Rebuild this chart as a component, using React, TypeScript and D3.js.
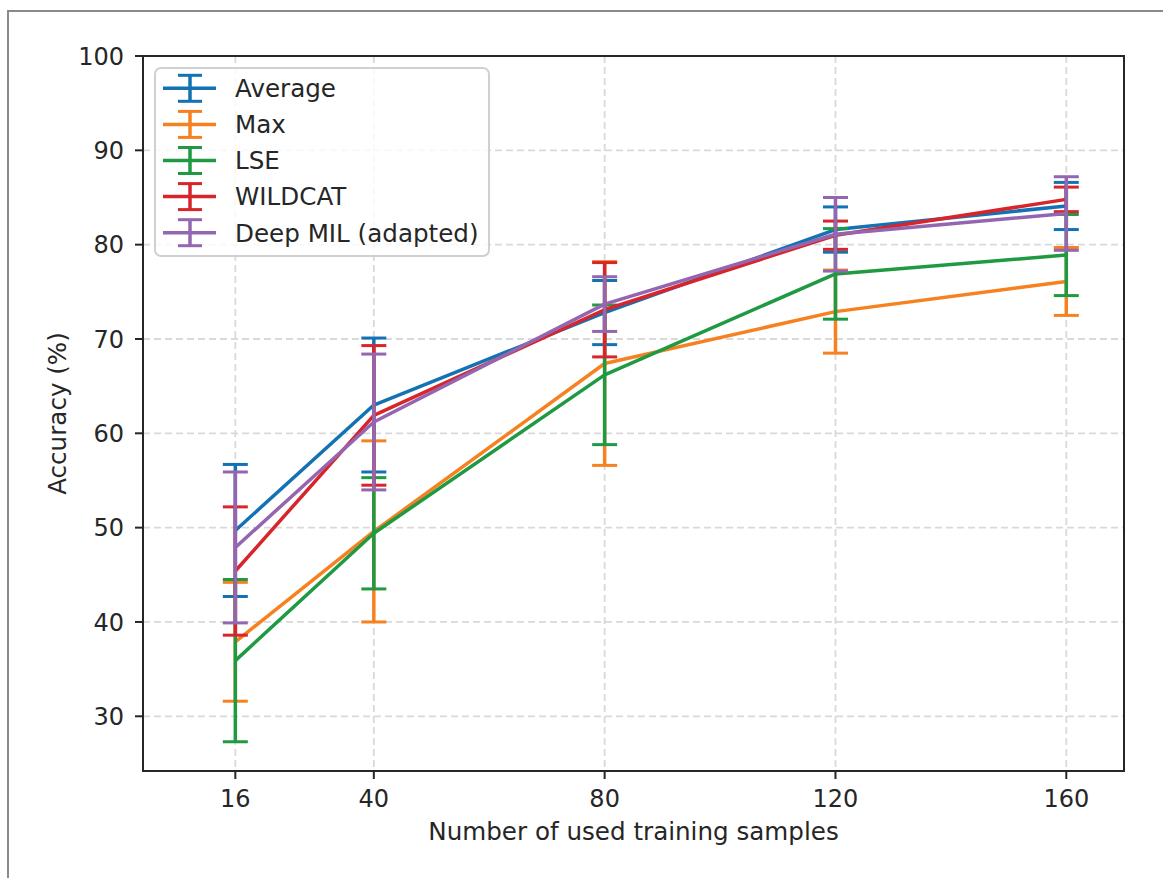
import * as d3 from 'd3';

const samples = [16, 40, 80, 120, 160];
const xTicks = [16, 40, 80, 120, 160];
const yTicks = [30, 40, 50, 60, 70, 80, 90, 100];

const averageAcc = [49.7, 63.0, 72.8, 81.6, 84.1];
const averageErr = [7.0, 7.1, 3.4, 2.4, 2.5];
const maxAcc = [37.9, 49.6, 67.4, 72.9, 76.1];
const maxErr = [6.3, 9.6, 10.8, 4.4, 3.6];
const lseAcc = [35.9, 49.4, 66.2, 76.9, 78.9];
const lseErr = [8.6, 5.9, 7.4, 4.8, 4.3];
const wildcatAcc = [45.4, 61.9, 73.1, 81.0, 84.8];
const wildcatErr = [6.8, 7.4, 5.0, 1.5, 1.3];
const deepMilAcc = [47.9, 61.2, 73.7, 81.1, 83.3];
const deepMilErr = [8.0, 7.2, 2.9, 3.9, 3.9];

const series = [
  { label: 'Average', color: '#1372b3', values: averageAcc, errs: averageErr },
  { label: 'Max', color: '#f68121', values: maxAcc, errs: maxErr },
  { label: 'LSE', color: '#1f9a43', values: lseAcc, errs: lseErr },
  { label: 'WILDCAT', color: '#d7252b', values: wildcatAcc, errs: wildcatErr },
  { label: 'Deep MIL (adapted)', color: '#9466b0', values: deepMilAcc, errs: deepMilErr },
];

const W = 1163;
const H = 878;
const plot = { left: 143, right: 1124, top: 56, bottom: 771 };
const font = '"DejaVu Sans", sans-serif';
const textColor = '#262626';

export default function App() {
  const x = d3.scaleLinear().domain([0, 170]).range([plot.left, plot.right]);
  const y = d3.scaleLinear().domain([24.2, 100]).range([plot.bottom, plot.top]);
  const line = d3
    .line<number>()
    .x((_, i) => x(samples[i]))
    .y((d) => y(d));
  const cap = 12.5;

  return (
    <svg
      width={W}
      height={H}
      style={{ position: 'absolute', left: 0, top: 0, background: '#fff' }}
      fontFamily={font}
    >
      <rect x={8} y={11} width={W + 20} height={H + 20} fill="#fff" stroke="#8a8a8a" strokeWidth={2} />

      {/* grid */}
      <g stroke="#d9d9d9" strokeWidth={1.8} strokeDasharray="7,4">
        {xTicks.map((t) => (
          <line key={'gx' + t} x1={x(t)} x2={x(t)} y1={plot.top} y2={plot.bottom} />
        ))}
        {yTicks.map((t) => (
          <line key={'gy' + t} x1={plot.left} x2={plot.right} y1={y(t)} y2={y(t)} />
        ))}
      </g>

      {/* series */}
      {series.map((s) => (
        <g key={s.label} stroke={s.color} strokeWidth={3.5} fill="none">
          {s.values.map((v, i) => {
            const cx = x(samples[i]);
            const hi = y(v + s.errs[i]);
            const lo = y(v - s.errs[i]);
            return (
              <g key={i}>
                <line x1={cx} x2={cx} y1={hi} y2={lo} />
                <line x1={cx - cap} x2={cx + cap} y1={hi} y2={hi} strokeWidth={3} />
                <line x1={cx - cap} x2={cx + cap} y1={lo} y2={lo} strokeWidth={3} />
              </g>
            );
          })}
          <path d={line(s.values) ?? ''} strokeLinejoin="round" />
        </g>
      ))}

      {/* axes frame */}
      <rect
        x={plot.left}
        y={plot.top}
        width={plot.right - plot.left}
        height={plot.bottom - plot.top}
        fill="none"
        stroke={textColor}
        strokeWidth={2}
      />

      {/* x ticks */}
      {xTicks.map((t) => (
        <g key={'xt' + t}>
          <line x1={x(t)} x2={x(t)} y1={plot.bottom} y2={plot.bottom + 8} stroke={textColor} strokeWidth={2} />
          <text x={x(t)} y={806.5} textAnchor="middle" fontSize={24} fill={textColor}>
            {t}
          </text>
        </g>
      ))}

      {/* y ticks */}
      {yTicks.map((t) => (
        <g key={'yt' + t}>
          <line x1={plot.left - 8} x2={plot.left} y1={y(t)} y2={y(t)} stroke={textColor} strokeWidth={2} />
          <text x={124} y={y(t)} dy="0.36em" textAnchor="end" fontSize={24} fill={textColor}>
            {t}
          </text>
        </g>
      ))}

      <text x={(plot.left + plot.right) / 2} y={840} textAnchor="middle" fontSize={24.6} fill={textColor}>
        Number of used training samples
      </text>
      <text
        transform={`translate(57, ${(plot.top + plot.bottom) / 2}) rotate(-90)`}
        textAnchor="middle"
        dy="0.36em"
        fontSize={24.6}
        fill={textColor}
      >
        Accuracy (%)
      </text>

      {/* legend */}
      <rect x={155} y={68} width={334} height={188} rx={6} fill="#fff" fillOpacity={0.8} stroke="#d0d0d0" strokeWidth={2} />
      {series.map((s, i) => {
        const ry = 88.3 + i * 36.1;
        return (
          <g key={'lg' + s.label}>
            <g stroke={s.color} strokeWidth={3.5}>
              <line x1={163} x2={216} y1={ry} y2={ry} />
              <line x1={190} x2={190} y1={ry - 13} y2={ry + 13} />
              <line x1={178} x2={202} y1={ry - 13} y2={ry - 13} strokeWidth={3} />
              <line x1={178} x2={202} y1={ry + 13} y2={ry + 13} strokeWidth={3} />
            </g>
            <text x={235} y={ry} dy="0.36em" fontSize={24.6} fill={textColor}>
              {s.label}
            </text>
          </g>
        );
      })}
    </svg>
  );
}
